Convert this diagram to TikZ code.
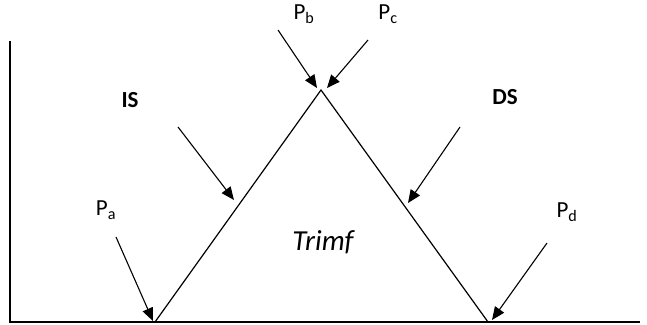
\documentclass[tikz,border=0pt]{standalone}
\usepackage{fontspec}
\setmainfont{Carlito}
\usetikzlibrary{arrows.meta}

\begin{document}
\begin{tikzpicture}[x=1pt,y=-1pt,
    lbl/.style={inner sep=0pt,font=\fontsize{23}{25}\selectfont},
    side/.style={inner sep=0pt,font=\fontsize{23}{25}\selectfont\bfseries},
    edge/.style={line width=1.2pt,draw=black},
    arr/.style={-{Triangle[length=13pt,width=11pt]},line width=1.1pt,draw=black}]
    \useasboundingbox (0,0) rectangle (647,324);
    % axes
    \coordinate (o) at (10,322);
    \coordinate (ytop) at (10,41);
    \coordinate (xend) at (640,322);
    \draw[edge] (ytop) -- (o) -- (xend);
    % triangle
    \coordinate (l) at (155,322);
    \coordinate (t) at (321,90);
    \coordinate (r) at (488,322);
    \draw[edge] (l) -- (t) -- (r);
    % labels
    \node[lbl] (pa) at (106,210) {P\textsubscript{a}};
    \node[lbl] (pb) at (304,14) {P\textsubscript{b}};
    \node[lbl] (pc) at (388,14) {P\textsubscript{c}};
    \node[lbl] (pd) at (567,212) {P\textsubscript{d}};
    \node[side] (is) at (130,100) {IS};
    \node[side] (ds) at (505,97) {DS};
    \node[inner sep=0pt,font=\fontsize{29}{31}\selectfont\itshape] (trimf) at (323,242) {Trimf};
    % arrows
    \coordinate (pa0) at (116,237); \coordinate (pa1) at (153,321);
    \coordinate (pb0) at (278,30);  \coordinate (pb1) at (317,88);
    \coordinate (pc0) at (368,40);  \coordinate (pc1) at (327,88);
    \coordinate (pd0) at (547,243); \coordinate (pd1) at (492,320);
    \coordinate (is0) at (178,127); \coordinate (is1) at (234,200);
    \coordinate (ds0) at (460,127); \coordinate (ds1) at (408,203);
    \draw[arr] (pa0) -- (pa1); \draw[arr] (pb0) -- (pb1); \draw[arr] (pc0) -- (pc1);
    \draw[arr] (pd0) -- (pd1); \draw[arr] (is0) -- (is1); \draw[arr] (ds0) -- (ds1);
\end{tikzpicture}
\end{document}
